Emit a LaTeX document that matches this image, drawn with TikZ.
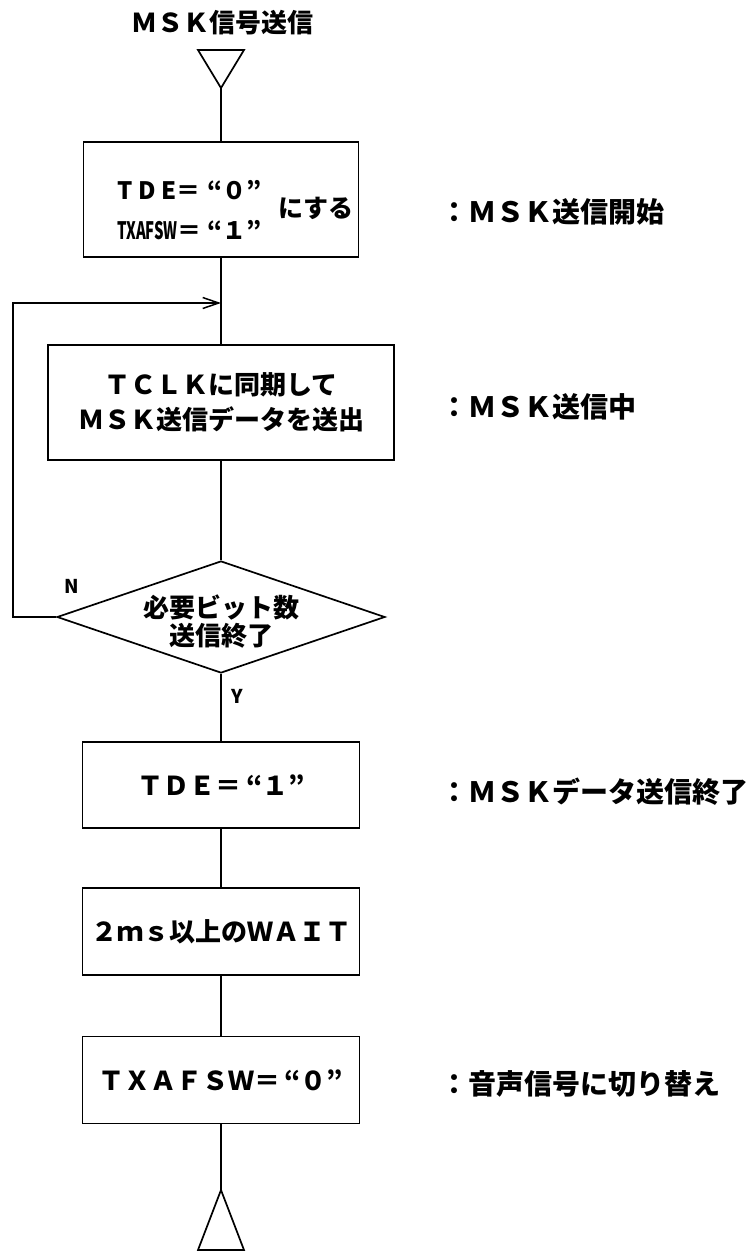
\documentclass[tikz,border=0pt]{standalone}
\usepackage{fontspec}
\usepackage{graphicx}
\newfontfamily\jp{Noto Sans CJK JP}
\usetikzlibrary{shapes.geometric,arrows.meta}
\begin{document}
\begin{tikzpicture}[x=1pt,y=-1pt,
  flow/.style={line width=1.7pt},
  box/.style={draw, line width=1.7pt, rectangle, inner sep=0pt},
  txt/.style={font=\jp\bfseries\fontsize{26}{35}\selectfont, inner sep=0pt, align=center},
  smalltxt/.style={font=\jp\bfseries\fontsize{24}{28}\selectfont, inner sep=0pt, anchor=west},
  lbl/.style={font=\jp\bfseries\fontsize{28}{30}\selectfont, inner sep=0pt, anchor=west},
  yn/.style={font=\jp\bfseries\fontsize{19}{20}\selectfont, inner sep=0pt},
  arr/.style={-{Straight Barb[length=16pt,width=11pt,line width=1.5pt]}},
]
\useasboundingbox (0,0) rectangle (752,1251);

% title and start triangle
\node[txt] (title) at (222,23) {ＭＳＫ信号送信};
\draw[flow, line join=miter] (198,50) -- (244,50) -- (221,88) -- cycle;
\coordinate (t1) at (221,88);

% box 1
\node[box, minimum width=275pt, minimum height=115pt] (b1) at (221,199.5) {};
\node[smalltxt] (b1a) at (117,190) {\makebox[90pt][l]{T D E＝}“０”};
\node[smalltxt] (b1b) at (117,230) {\makebox[90pt][l]{\scalebox{0.62}[1]{TXAFSW}＝}“１”};
\node[txt, font=\jp\bfseries\fontsize{25}{30}\selectfont] (b1c) at (316,208) {にする};

% loop merge point
\coordinate (m1) at (221,303);
\coordinate (lp2) at (13,303);
\coordinate (lp1) at (13,617);

% box 2
\node[box, minimum width=346pt, minimum height=115pt, txt] (b2) at (221,402.5)
  {ＴＣＬＫに同期して\\ＭＳＫ送信データを送出};

% decision
\node[draw, diamond, line width=1.7pt, minimum width=328pt, minimum height=112pt, inner sep=0pt] (d) at (221,617) {};
\node[txt, font=\jp\bfseries\fontsize{26}{28}\selectfont] (dt) at (221,622) {必要ビット数\\送信終了};
\node[yn] (n) at (72,586) {N};
\node[yn] (y) at (237,696) {Y};

% boxes 3-5
\node[box, minimum width=277pt, minimum height=86pt, txt] (b3) at (221,785) {ＴＤＥ＝\hspace{5pt}“１”};
\node[box, minimum width=277pt, minimum height=87pt, txt] (b4) at (221,931.5) {２ｍｓ以上のＷＡＩＴ};
\node[box, minimum width=277pt, minimum height=87pt, txt] (b5) at (221,1080) {ＴＸＡＦＳＷ＝\hspace{4pt}“０”};

% end triangle
\coordinate (t2) at (221,1190);
\draw[flow, line join=miter] (t2) -- (198,1250) -- (244,1250) -- cycle;

% connectors
\draw[flow] (t1) -- (b1.north);
\draw[flow] (b1.south) -- (b2.north);
\draw[flow] (b2.south) -- (d.north);
\draw[flow] (d.south) -- (b3.north);
\draw[flow] (b3.south) -- (b4.north);
\draw[flow] (b4.south) -- (b5.north);
\draw[flow] (b5.south) -- (t2);
\draw[flow, arr] (d.west) -- (lp1) -- (lp2) -- (m1);

% side labels
\node[lbl] (l1) at (440,212) {：ＭＳＫ送信開始};
\node[lbl] (l2) at (440,407) {：ＭＳＫ送信中};
\node[lbl] (l3) at (440,792) {：ＭＳＫデータ送信終了};
\node[lbl] (l4) at (440,1084) {：音声信号に切り替え};
\end{tikzpicture}
\end{document}
